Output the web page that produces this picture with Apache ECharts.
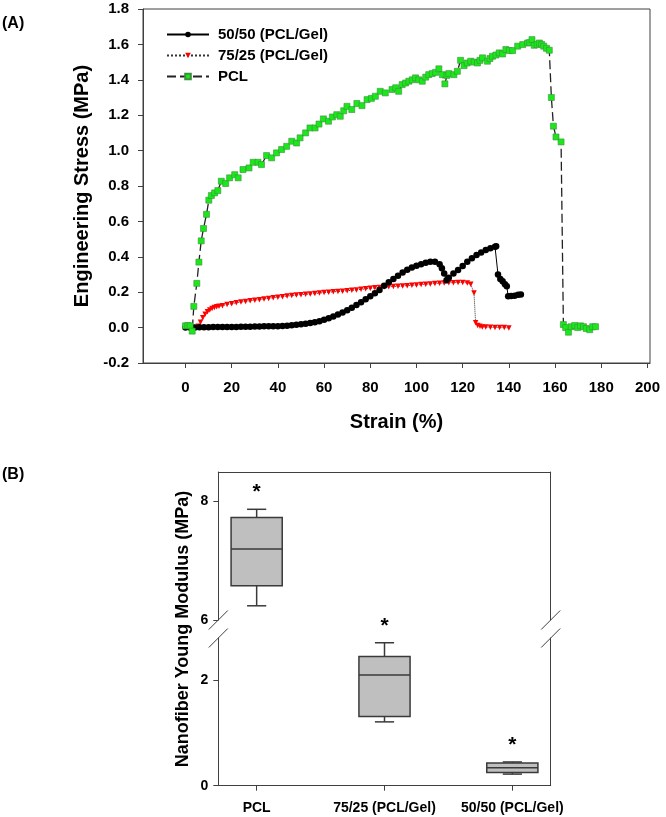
<!DOCTYPE html>
<html>
<head>
<meta charset="utf-8">
<script src="https://cdn.jsdelivr.net/npm/echarts@6/dist/echarts.min.js"></script>
<style>html,body{margin:0;padding:0;background:#fff;}#c{width:666px;height:817px;}</style>
</head>
<body>
<div id="c"></div>
<script>
// ---------- Panel A data ----------
const strain5050 = [0,2,4,6,8,10,12,14,16,18,20,22,24,26,28,30,32,34,36,38,40,42,44,46,48,50,52,54,56,58,60,62,64,66,68,70,72,74,76,78,80,82,84,86,88,90,92,94,96,98,100,102,104,106,108,
  110,111,112,113,114,116,118,120,122,124,126,128,130,132,134,134.5,135.3,136.3,137.3,138.3,139.1,139.7,141,142.5,144,145.2];
const stress5050 = [0.000,0.001,0.001,0.002,0.002,0.002,0.003,0.003,0.003,0.004,0.004,0.004,0.005,0.005,0.005,0.006,0.006,0.007,0.007,0.008,0.008,0.009,0.011,0.013,0.016,0.019,0.022,0.026,0.030,0.036,0.044,0.053,0.063,0.074,0.086,0.098,0.112,0.127,0.143,0.160,0.177,0.194,0.212,0.237,0.256,0.274,0.293,0.312,0.327,0.340,0.350,0.358,0.366,0.372,0.372,
  0.358,0.335,0.305,0.268,0.282,0.305,0.326,0.348,0.372,0.392,0.410,0.425,0.438,0.448,0.457,0.460,0.300,0.275,0.262,0.245,0.233,0.177,0.178,0.180,0.185,0.187];

const strain7525 = [4.5,5.5,6.5,7.5,8.5,9.5,10.5,11.5,12.5,13.5,14.5,
  16,18,20,22,24,26,28,30,32,34,36,38,40,42,44,46,48,50,52,54,56,58,60,62,64,66,68,70,72,74,76,78,80,82,84,86,88,90,92,94,96,98,100,102,104,106,108,110,112,114,116,118,120,122,
  123.5,124.9,125.6,126.5,127.5,128.5,130,132,134,136,138,140];
const stress7525 = [0.000,0.008,0.030,0.055,0.075,0.090,0.100,0.108,0.114,0.118,0.121,
  0.124,0.131,0.135,0.140,0.144,0.148,0.152,0.155,0.158,0.162,0.165,0.169,0.172,0.175,0.178,0.181,0.184,0.186,0.188,0.190,0.192,0.195,0.198,0.200,0.202,0.204,0.206,0.208,0.211,0.213,0.216,0.219,0.222,0.225,0.227,0.229,0.231,0.232,0.233,0.235,0.237,0.239,0.241,0.243,0.245,0.247,0.249,0.251,0.252,0.253,0.254,0.255,0.255,0.252,
  0.245,0.196,0.027,0.012,0.007,0.004,0.003,0.002,0.001,0.000,0.000,-0.002];

const strainPCL = [0,1,2,2.9,3.6,4.9,5.8,6.8,7.8,9.1,10.1,11.2,12.6,14.0,15.5,17.4,19.1,21.3,22.8,24.9,27.5,29.3,31.4,32.9,35.1,37.3,39.4,41.6,43.8,46.0,48.1,49.6,52.0,53.9,56.1,57.8,59.7,61.9,63.6,65.5,67.0,68.5,69.9,72.0,74.2,76.4,78.6,80.5,82.2,84.3,86.5,89.4,91.0,92.3,93.8,95.3,96.7,98.2,99.6,101.0,102.5,104.0,105.3,106.8,108.3,109.7,111.2,112.3,113.2,114.0,116.2,117.7,119.1,120.6,122.0,123.5,125.0,126.4,127.5,128.6,130.7,131.8,132.9,134.4,135.8,137.3,138.7,140.2,141.6,143.8,146.0,148.1,149.0,150.0,151.0,152.2,153.2,154.2,155.1,156.3,157.5,158.4,159.3,160.4,162.6,163.6,164.6,165.8,167.0,168.5,169.8,171.0,172.3,173.5,175.0,176.3,177.5];
const stressPCL = [0.010,0.012,0.010,-0.020,0.120,0.250,0.370,0.490,0.560,0.640,0.720,0.746,0.761,0.774,0.827,0.814,0.846,0.864,0.846,0.893,0.902,0.934,0.934,0.921,0.972,0.959,0.987,1.006,1.024,1.053,1.043,1.072,1.100,1.128,1.128,1.150,1.179,1.166,1.190,1.203,1.194,1.225,1.250,1.232,1.266,1.254,1.288,1.295,1.307,1.335,1.326,1.345,1.355,1.335,1.373,1.382,1.392,1.400,1.411,1.400,1.392,1.415,1.429,1.435,1.442,1.462,1.429,1.377,1.425,1.435,1.429,1.448,1.510,1.480,1.495,1.505,1.500,1.495,1.510,1.524,1.505,1.520,1.533,1.540,1.552,1.546,1.571,1.565,1.565,1.590,1.599,1.608,1.610,1.627,1.595,1.600,1.608,1.600,1.590,1.578,1.567,1.300,1.138,1.077,1.049,0.017,0.000,-0.026,0.005,0.012,0.000,0.010,0.005,-0.005,-0.012,0.005,0.005];

const strainTicks = [0,20,40,60,80,100,120,140,160,180,200];
const seriesNames = ['50/50 (PCL/Gel)', '75/25 (PCL/Gel)', 'PCL'];

// ---------- Panel B data ----------
const boxCategories = ['PCL', '75/25 (PCL/Gel)', '50/50 (PCL/Gel)'];
const boxMin    = [6.24, 1.21, 0.22];
const boxQ1     = [6.58, 1.31, 0.25];
const boxMedian = [7.20, 2.10, 0.34];
const boxQ3     = [7.73, 2.45, 0.43];
const boxMax    = [7.87, 2.71, 0.45];
const upperTicks = [6, 8];
const lowerTicks = [0, 2];

// ---------- helpers ----------
const FONT = 'Arial, "Liberation Sans", sans-serif';
const AX = '#404040';
const zip = (xs, ys) => xs.map((x, i) => [x, ys[i]]);
const boxRows = boxCategories.map((c, i) => [i + 1, boxMin[i], boxQ1[i], boxMedian[i], boxQ3[i], boxMax[i]]);
const upperRows = boxRows.filter(r => r[1] >= upperTicks[0]);
const lowerRows = boxRows.filter(r => r[1] < upperTicks[0]);

function renderBox(params, api) {
  const x = api.value(0);
  const pMin = api.coord([x, api.value(1)]);
  const pQ1 = api.coord([x, api.value(2)]);
  const pMed = api.coord([x, api.value(3)]);
  const pQ3 = api.coord([x, api.value(4)]);
  const pMax = api.coord([x, api.value(5)]);
  const halfW = api.size([0.4, 0])[0] / 2;
  const capW = api.size([0.15, 0])[0] / 2;
  const cx = pMed[0];
  const ls = { stroke: '#3a3a3a', lineWidth: 1.5, fill: null };
  return {
    type: 'group',
    children: [
      { type: 'line', shape: { x1: cx, y1: pQ3[1], x2: cx, y2: pMax[1] }, style: ls },
      { type: 'line', shape: { x1: cx - capW, y1: pMax[1], x2: cx + capW, y2: pMax[1] }, style: ls },
      { type: 'line', shape: { x1: cx, y1: pQ1[1], x2: cx, y2: pMin[1] }, style: ls },
      { type: 'line', shape: { x1: cx - capW, y1: pMin[1], x2: cx + capW, y2: pMin[1] }, style: ls },
      { type: 'rect', shape: { x: cx - halfW, y: pQ3[1], width: halfW * 2, height: pQ1[1] - pQ3[1] },
        style: { fill: '#bfbfbf', stroke: '#3a3a3a', lineWidth: 1.5 } },
      { type: 'line', shape: { x1: cx - halfW, y1: pMed[1], x2: cx + halfW, y2: pMed[1] }, style: ls },
      { type: 'text', x: cx, y: pMax[1] - 17,
        style: { text: '*', font: 'bold 21px ' + FONT, fill: '#000', align: 'center', verticalAlign: 'middle' } }
    ]
  };
}

const chart = echarts.init(document.getElementById('c'), null, { renderer: 'canvas' });

const labelA = { fontSize: 15, fontWeight: 'bold', color: '#000', fontFamily: FONT };
const labelB = { fontSize: 14, fontWeight: 'bold', color: '#000', fontFamily: FONT };
const lineAx = { show: true, onZero: false, lineStyle: { color: AX, width: 1 } };
const hidden = { show: false };

const option = {
  animation: false,
  backgroundColor: '#fff',
  textStyle: { fontFamily: FONT },
  grid: [
    { left: 143, top: 9, width: 507, height: 354, show: true, borderColor: AX, borderWidth: 1, backgroundColor: 'transparent' },
    { left: 218.3, top: 472, width: 332.4, height: 148 },
    { left: 218.3, top: 638, width: 332.4, height: 147.7 }
  ],
  legend: {
    orient: 'vertical', left: 166, top: 27, padding: 0,
    itemWidth: 42, itemHeight: 7, itemGap: 6,
    data: seriesNames,
    textStyle: { fontSize: 15, fontWeight: 'bold', color: '#000', fontFamily: FONT, lineHeight: 15, padding: [0, 0, 0, 4] }
  },
  xAxis: [
    {
      gridIndex: 0, type: 'value', min: -18.4, max: 201.1,
      name: 'Strain (%)', nameLocation: 'middle', nameGap: 49,
      nameTextStyle: { fontSize: 20, fontWeight: 'bold', color: '#000', fontFamily: FONT },
      axisLine: lineAx,
      axisTick: { show: true, length: 5, lineStyle: { color: AX }, customValues: strainTicks },
      axisLabel: Object.assign({ margin: 17, customValues: strainTicks }, labelA),
      splitLine: hidden
    },
    {
      gridIndex: 1, type: 'value', min: 0.7, max: 3.3, position: 'top',
      axisLine: lineAx, axisTick: hidden, axisLabel: hidden, splitLine: hidden
    },
    {
      gridIndex: 2, type: 'value', min: 0.7, max: 3.3, position: 'bottom',
      axisLine: lineAx,
      axisTick: { show: true, length: 5, lineStyle: { color: AX }, customValues: [1, 2, 3] },
      axisLabel: { margin: 15, fontSize: 14, fontWeight: 'bold', color: '#000', fontFamily: FONT,
        customValues: [1, 2, 3], formatter: v => boxCategories[Math.round(v) - 1] },
      splitLine: hidden
    }
  ],
  yAxis: [
    {
      gridIndex: 0, type: 'value', min: -0.2, max: 1.8, interval: 0.2,
      name: 'Engineering Stress (MPa)', nameLocation: 'middle', nameGap: 51,
      nameTextStyle: { fontSize: 20, fontWeight: 'bold', color: '#000', fontFamily: FONT },
      axisLine: lineAx,
      axisTick: { show: true, length: 5, lineStyle: { color: AX } },
      axisLabel: Object.assign({ margin: 14, formatter: v => v.toFixed(1) }, labelA),
      splitLine: hidden
    },
    {
      gridIndex: 1, type: 'value', min: 6, max: 8.5,
      axisLine: lineAx,
      axisTick: { show: true, length: 5, lineStyle: { color: AX }, customValues: upperTicks },
      axisLabel: Object.assign({ margin: 10, customValues: upperTicks }, labelB),
      splitLine: hidden
    },
    {
      gridIndex: 2, type: 'value', min: 0, max: 2.8,
      axisLine: lineAx,
      axisTick: { show: true, length: 5, lineStyle: { color: AX }, customValues: lowerTicks },
      axisLabel: Object.assign({ margin: 10, customValues: lowerTicks }, labelB),
      splitLine: hidden
    },
    { gridIndex: 1, type: 'value', min: 6, max: 8.5, position: 'right', axisLine: lineAx, axisTick: hidden, axisLabel: hidden, splitLine: hidden },
    { gridIndex: 2, type: 'value', min: 0, max: 2.8, position: 'right', axisLine: lineAx, axisTick: hidden, axisLabel: hidden, splitLine: hidden }
  ],
  series: [
    {
      name: seriesNames[1], type: 'line', xAxisIndex: 0, yAxisIndex: 0,
      data: zip(strain7525, stress7525),
      symbol: 'triangle', symbolRotate: 180, symbolSize: 5.5,
      itemStyle: { color: '#ff0000' },
      lineStyle: { color: '#333', width: 1, type: 'dotted' }
    },
    {
      name: seriesNames[0], type: 'line', xAxisIndex: 0, yAxisIndex: 0,
      data: zip(strain5050, stress5050),
      symbol: 'circle', symbolSize: 6.5,
      itemStyle: { color: '#000' },
      lineStyle: { color: '#000', width: 1 }
    },
    {
      name: seriesNames[2], type: 'line', xAxisIndex: 0, yAxisIndex: 0,
      data: zip(strainPCL, stressPCL),
      symbol: 'rect', symbolSize: 6,
      itemStyle: { color: '#1be81b', borderColor: '#3c8f3c', borderWidth: 0.6 },
      lineStyle: { color: '#222', width: 1.3, type: [9, 4] }
    },
    {
      type: 'custom', xAxisIndex: 1, yAxisIndex: 1, renderItem: renderBox,
      data: upperRows, encode: { x: 0, y: [1, 2, 3, 4, 5] }, z: 5
    },
    {
      type: 'custom', xAxisIndex: 2, yAxisIndex: 2, renderItem: renderBox,
      data: lowerRows, encode: { x: 0, y: [1, 2, 3, 4, 5] }, z: 5
    }
  ],
  graphic: [
    { id: 'lblA', type: 'text', left: 2, top: 16, style: { text: '(A)', font: 'bold 16px ' + FONT, fill: '#000' } },
    { id: 'lblB', type: 'text', left: 2, top: 467, style: { text: '(B)', font: 'bold 16px ' + FONT, fill: '#000' } },
    { id: 'ytitleB', type: 'text', x: 183, y: 629, rotation: Math.PI / 2,
      style: { text: 'Nanofiber Young Modulus (MPa)', font: 'bold 18px ' + FONT, fill: '#000', align: 'center', verticalAlign: 'middle' } }
  ]
};
chart.setOption(option);

// axis-break slashes, placed from the axes' own scales
const xL = chart.convertToPixel({ xAxisIndex: 1 }, 0.7);
const xR = chart.convertToPixel({ xAxisIndex: 1 }, 3.3);
const yUp = chart.convertToPixel({ yAxisIndex: 1 }, 6);
const yLo = chart.convertToPixel({ yAxisIndex: 2 }, 2.8);
const slashes = [];
[xL, xR].forEach((x, i) => {
  [yUp, yLo].forEach((y, j) => {
    slashes.push({ id: 'brk' + i + j, type: 'line', z: 10,
      shape: { x1: x - 9.5, y1: y + 9.5, x2: x + 9.5, y2: y - 9.5 },
      style: { stroke: AX, lineWidth: 1 } });
  });
});
chart.setOption({ graphic: slashes });
</script>
</body>
</html>
